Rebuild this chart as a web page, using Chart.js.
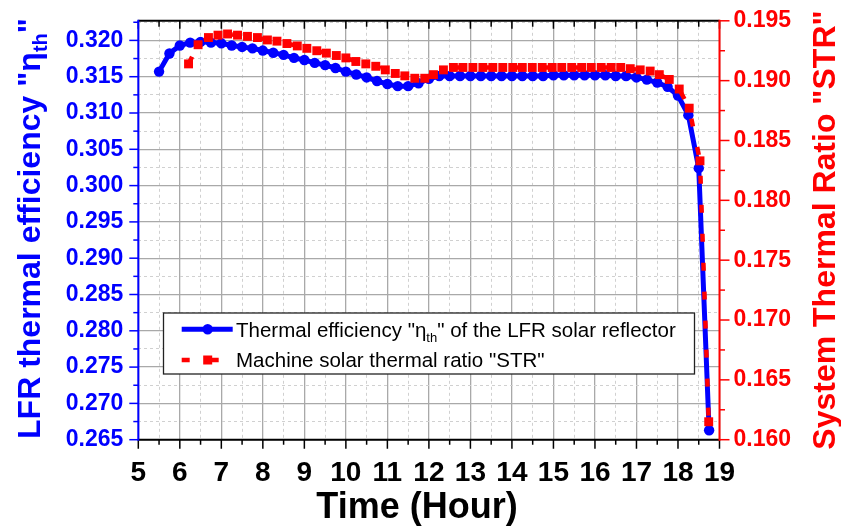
<!DOCTYPE html>
<html><head><meta charset="utf-8">
<script src="https://cdn.jsdelivr.net/npm/chart.js@4.4.1/dist/chart.umd.min.js"></script>
<style>html,body{margin:0;padding:0;background:#fff;}canvas{display:block;}</style>
</head><body>
<canvas id="c" width="841" height="529"></canvas>
<script>
// ---- data ----
const hours = [5.5,5.75,6.0,6.25,6.5,6.75,7.0,7.25,7.5,7.75,8.0,8.25,8.5,8.75,9.0,9.25,9.5,9.75,10.0,10.25,10.5,10.75,11.0,11.25,11.5,11.75,12.0,12.25,12.5,12.75,13.0,13.25,13.5,13.75,14.0,14.25,14.5,14.75,15.0,15.25,15.5,15.75,16.0,16.25,16.5,16.75,17.0,17.25,17.5,17.75,18.0,18.25,18.5,18.75];
const thermalEfficiency = [0.3157,0.3182,0.3193,0.3197,0.3198,0.3197,0.3196,0.3193,0.3191,0.3189,0.3186,0.3183,0.3180,0.3176,0.3173,0.3169,0.3166,0.3162,0.3157,0.3153,0.3149,0.3144,0.3140,0.3137,0.3137,0.3141,0.3147,0.3151,0.3151,0.3151,0.3151,0.3151,0.3151,0.3151,0.3151,0.3151,0.3151,0.3151,0.3152,0.3152,0.3152,0.3152,0.3152,0.3152,0.3151,0.3151,0.3149,0.3146,0.3142,0.3136,0.3124,0.3097,0.3024,0.2663];
const strHours = [6.21,6.44,6.69,6.92,7.15,7.39,7.63,7.87,8.11,8.34,8.58,8.83,9.06,9.30,9.53,9.77,10.00,10.24,10.48,10.72,10.95,11.19,11.42,11.66,11.90,12.11,12.35,12.59,12.82,13.06,13.30,13.54,13.78,14.02,14.25,14.49,14.73,14.97,15.20,15.44,15.68,15.91,16.15,16.39,16.62,16.85,17.09,17.33,17.55,17.79,18.03,18.27,18.53,18.74];
const strValues = [0.1914,0.1930,0.1936,0.1938,0.1939,0.1938,0.1937,0.1936,0.1934,0.1933,0.1931,0.1929,0.1927,0.1925,0.1923,0.1921,0.1919,0.1916,0.1914,0.1912,0.1909,0.1906,0.1904,0.1902,0.1902,0.1905,0.1909,0.1911,0.1911,0.1911,0.1911,0.1911,0.1911,0.1911,0.1911,0.1911,0.1911,0.1911,0.1911,0.1911,0.1911,0.1911,0.1911,0.1911,0.1911,0.1910,0.1909,0.1908,0.1905,0.1901,0.1893,0.1877,0.1833,0.1615];
const xRange = [5, 19];
const yLeftRange = [0.265, 0.3227];
const yRightRange = [0.160, 0.195];
const seriesNames = ['Thermal efficiency "η', '" of the LFR solar reflector', 'Machine solar thermal ratio "STR"'];
const axisTitles = {x: 'Time (Hour)', yLeft: 'LFR thermal efficiency "η', yRight: 'System Thermal Ratio "STR"'};

// ---- styling ----
const FONT = '"Liberation Sans", Arial, Helvetica, sans-serif';
const BLUE = '#0000ff', RED = '#ff0000';
const MAJOR_GRID = '#a9a9a9', MINOR_GRID = '#d0d0d0';
function isMult(v, s){ const k = v / s; return Math.abs(k - Math.round(k)) < 1e-6; }

function drawRich(ctx, parts, x, y, align) {
  let total = 0;
  parts.forEach(p => { ctx.font = p.font; p.w = ctx.measureText(p.t).width; total += p.w; });
  let cx = align === 'center' ? x - total / 2 : x;
  ctx.textAlign = 'left'; ctx.textBaseline = 'alphabetic';
  parts.forEach(p => { ctx.font = p.font; ctx.fillText(p.t, cx, y + (p.dy || 0)); cx += p.w; });
}

const decor = {
  id: 'decor',
  afterDraw(chart) {
    const {ctx, chartArea: a, scales} = chart;
    const sx = scales.x, sy = scales.y, sy2 = scales.y2;
    ctx.save();
    ctx.lineWidth = 1.5;
    // bottom & top ticks
    ctx.strokeStyle = '#000';
    sx.ticks.forEach(t => {
      const px = sx.getPixelForValue(t.value);
      const major = isMult(t.value, 1);
      ctx.beginPath();
      ctx.moveTo(px, a.bottom); ctx.lineTo(px, a.bottom + (major ? 9 : 5));
      ctx.moveTo(px, a.top); ctx.lineTo(px, a.top + (major ? 8 : 6));
      ctx.stroke();
    });
    // left ticks
    ctx.strokeStyle = BLUE;
    sy.ticks.forEach(t => {
      if (!isMult(t.value, 0.0025)) return;
      const py = sy.getPixelForValue(t.value);
      const major = isMult(t.value, 0.005);
      ctx.beginPath(); ctx.moveTo(a.left, py); ctx.lineTo(a.left - (major ? 9 : 5), py); ctx.stroke();
    });
    // right ticks
    ctx.strokeStyle = RED;
    sy2.ticks.forEach(t => {
      const py = sy2.getPixelForValue(t.value);
      const major = isMult(t.value, 0.005);
      ctx.beginPath(); ctx.moveTo(a.right, py); ctx.lineTo(a.right + (major ? 10 : 5.5), py); ctx.stroke();
    });
    // frame
    ctx.lineWidth = 2;
    ctx.strokeStyle = '#000';
    ctx.beginPath(); ctx.moveTo(a.left, a.top); ctx.lineTo(a.right, a.top); ctx.stroke();
    ctx.beginPath(); ctx.moveTo(a.left, a.bottom); ctx.lineTo(a.right, a.bottom); ctx.stroke();
    ctx.strokeStyle = BLUE;
    ctx.beginPath(); ctx.moveTo(a.left, a.top - 1); ctx.lineTo(a.left, a.bottom + 1); ctx.stroke();
    ctx.strokeStyle = RED;
    ctx.beginPath(); ctx.moveTo(a.right, a.top - 1); ctx.lineTo(a.right, a.bottom + 1); ctx.stroke();

    // axis titles
    ctx.fillStyle = '#000';
    drawRich(ctx, [{t: axisTitles.x, font: 'bold 36px ' + FONT}], 417, 518, 'center');
    ctx.save();
    ctx.translate(40, 228.5); ctx.rotate(-Math.PI / 2);
    ctx.fillStyle = BLUE;
    drawRich(ctx, [
      {t: axisTitles.yLeft, font: 'bold 32px ' + FONT},
      {t: 'th', font: 'bold 20px ' + FONT, dy: 7},
      {t: '"', font: 'bold 32px ' + FONT}
    ], 0, 0, 'center');
    ctx.restore();
    ctx.save();
    ctx.translate(835, 230); ctx.rotate(-Math.PI / 2);
    ctx.fillStyle = RED;
    drawRich(ctx, [{t: axisTitles.yRight, font: 'bold 32px ' + FONT}], 0, 0, 'center');
    ctx.restore();

    // legend
    ctx.fillStyle = '#fff';
    ctx.fillRect(163.5, 313, 531, 61);
    ctx.lineWidth = 1.3; ctx.strokeStyle = '#222';
    ctx.strokeRect(163.5, 313, 531, 61);
    // entry 1
    ctx.strokeStyle = BLUE; ctx.lineWidth = 5; ctx.setLineDash([]);
    ctx.beginPath(); ctx.moveTo(181.7, 329.3); ctx.lineTo(232.7, 329.3); ctx.stroke();
    ctx.fillStyle = BLUE; ctx.beginPath(); ctx.arc(207.7, 329.3, 5.2, 0, Math.PI * 2); ctx.fill();
    // entry 2
    ctx.strokeStyle = RED; ctx.lineWidth = 4.5; ctx.setLineDash([8, 21]);
    ctx.beginPath(); ctx.moveTo(181.7, 360); ctx.lineTo(232.7, 360); ctx.stroke();
    ctx.setLineDash([]);
    ctx.fillStyle = RED; ctx.fillRect(207.7 - 4.5, 360 - 4.5, 9, 9);
    ctx.fillStyle = '#000';
    drawRich(ctx, [
      {t: seriesNames[0], font: '20.5px ' + FONT},
      {t: 'th', font: '13px ' + FONT, dy: 5},
      {t: seriesNames[1], font: '20.5px ' + FONT}
    ], 236, 336.7, 'left');
    drawRich(ctx, [{t: seriesNames[2], font: '20.5px ' + FONT}], 236, 367.3, 'left');
    ctx.restore();
  }
};

Chart.defaults.font.family = FONT;

new Chart(document.getElementById('c'), {
  type: 'line',
  data: {
    datasets: [
      {
        label: 'Thermal efficiency',
        data: hours.map((h, i) => ({x: h, y: thermalEfficiency[i]})),
        yAxisID: 'y',
        borderColor: BLUE, backgroundColor: BLUE,
        borderWidth: 5, tension: 0,
        pointStyle: 'circle', pointRadius: 5.2,
        pointBackgroundColor: BLUE, pointBorderWidth: 0,
        order: 1, clip: false
      },
      {
        label: 'STR',
        data: strHours.map((h, i) => ({x: h, y: strValues[i]})),
        yAxisID: 'y2',
        borderColor: RED, backgroundColor: RED,
        borderWidth: 4.5, borderDash: [8, 21], tension: 0,
        pointStyle: 'rect', pointRadius: 6.3,
        pointBackgroundColor: RED, pointBorderWidth: 0,
        order: 0, clip: false
      }
    ]
  },
  options: {
    responsive: false,
    animation: false,
    devicePixelRatio: 1,
    layout: {padding: {top: 16.5, left: 0, right: 0, bottom: 0}},
    plugins: {legend: {display: false}, tooltip: {enabled: false}},
    scales: {
      x: {
        type: 'linear', position: 'bottom', min: xRange[0], max: xRange[1],
        afterFit(s) { s.height = 89.3; },
        ticks: {
          stepSize: 0.5, autoSkip: false, maxRotation: 0, padding: 9,
          color: '#000', font: {family: FONT, size: 28, weight: 'bold'},
          callback: v => isMult(v, 1) ? String(Math.round(v)) : ''
        },
        grid: {
          color: c => (c.tick && isMult(c.tick.value, 1)) ? MAJOR_GRID : MINOR_GRID,
          lineWidth: c => (c.tick && isMult(c.tick.value, 1)) ? 1.3 : 1,
          tickLength: 8, tickColor: 'rgba(0,0,0,0)'
        },
        border: {display: false, dash: c => (c.tick && !isMult(c.tick.value, 1)) ? [3, 3] : []}
      },
      y: {
        type: 'linear', position: 'left', min: yLeftRange[0], max: yLeftRange[1],
        afterFit(s) { s.width = 138.3; },
        ticks: {
          stepSize: 0.0025, autoSkip: false, includeBounds: false, padding: 7,
          color: BLUE, font: {family: FONT, size: 23, weight: 'bold'},
          callback: v => isMult(v, 0.005) ? v.toFixed(3) : ''
        },
        grid: {
          color: c => !c.tick ? 'rgba(0,0,0,0)' : isMult(c.tick.value, 0.005) ? MAJOR_GRID : (isMult(c.tick.value, 0.0025) ? MINOR_GRID : 'rgba(0,0,0,0)'),
          lineWidth: c => (c.tick && isMult(c.tick.value, 0.005)) ? 1.3 : 1,
          tickLength: 8, tickColor: 'rgba(0,0,0,0)'
        },
        border: {display: false, dash: c => (c.tick && !isMult(c.tick.value, 0.005)) ? [3, 3] : []}
      },
      y2: {
        type: 'linear', position: 'right', min: yRightRange[0], max: yRightRange[1],
        afterFit(s) { s.width = 121.5; },
        ticks: {
          stepSize: 0.0025, autoSkip: false, padding: 6,
          color: RED, font: {family: FONT, size: 23, weight: 'bold'},
          callback: v => isMult(v, 0.005) ? v.toFixed(3) : ''
        },
        grid: {drawOnChartArea: false, tickLength: 8, tickColor: 'rgba(0,0,0,0)'},
        border: {display: false}
      }
    }
  },
  plugins: [decor]
});
</script>
</body></html>
